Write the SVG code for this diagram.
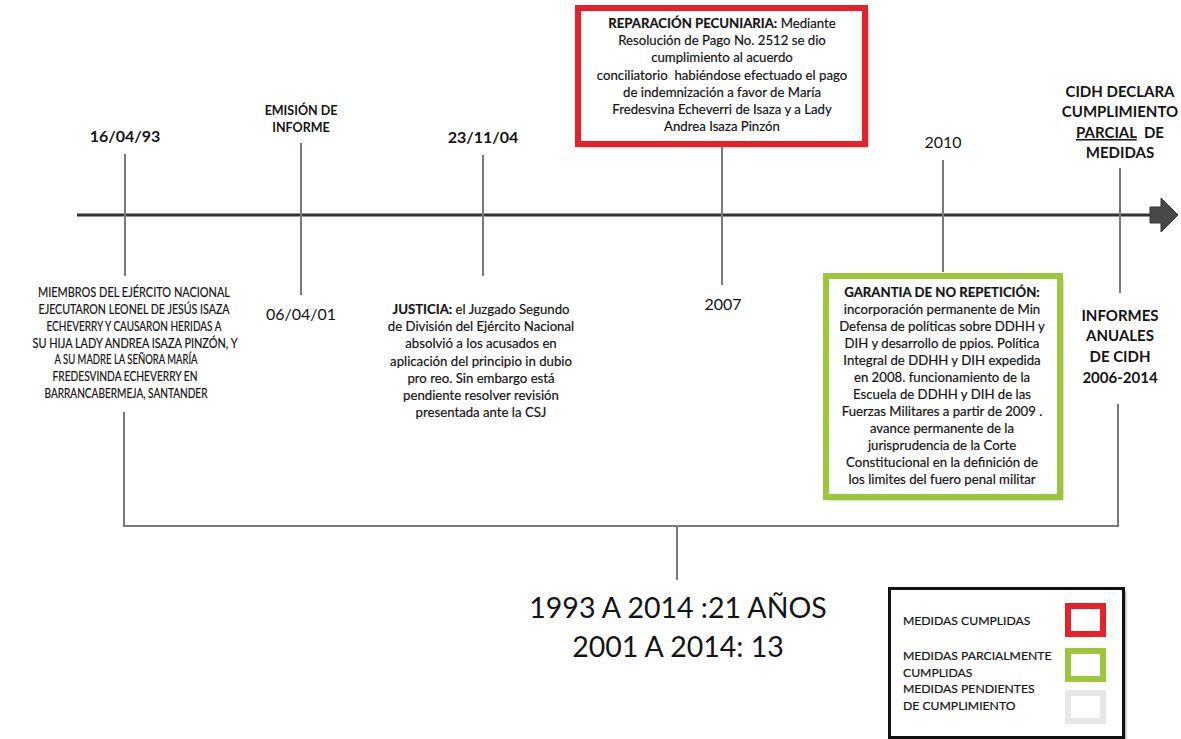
<svg xmlns="http://www.w3.org/2000/svg" width="1181" height="739" viewBox="0 0 1181 739">
  <style>
    text { font-family: Lato, "Open Sans", "Liberation Sans", sans-serif; fill: #141414; text-anchor: middle; }
    .b { font-weight: 700; }
    .date { font-size: 16px; }
    .caps { font-size: 12.6px; stroke: #141414; stroke-width: 0.2; }
    .desc { font-size: 13.2px; stroke: #141414; stroke-width: 0.2; }
    .head { font-size: 15px; font-weight: 700; }
    .tick { stroke: #7a7a7a; stroke-width: 2; fill: none; }
    .leg { font-size: 12.2px; text-anchor: start; stroke: #141414; stroke-width: 0.2; }
  </style>
  <defs>
    <filter id="shade" x="-5%" y="-5%" width="115%" height="115%">
      <feGaussianBlur stdDeviation="1"/>
    </filter>
  </defs>

  <rect width="1181" height="739" fill="#ffffff"/>

  <!-- connectors: axis, ticks and bracket -->
  <g id="connectors">
    <line x1="77" y1="215" x2="1151" y2="215" stroke="#333333" stroke-width="3"/>
    <path d="M1150,207 H1161 V198 L1178,215 L1161,232 V223 H1150 Z" fill="#484848" stroke="#333333" stroke-width="1"/>
    <line class="tick" x1="125" y1="154" x2="125" y2="276"/>
    <line class="tick" x1="301" y1="143" x2="301" y2="295"/>
    <line class="tick" x1="483" y1="155" x2="483" y2="276"/>
    <line class="tick" x1="722" y1="147" x2="722" y2="285"/>
    <line class="tick" x1="943" y1="160" x2="943" y2="272"/>
    <line class="tick" x1="1120" y1="168" x2="1120" y2="293"/>
    <path class="tick" d="M124,412 V526 H1118 V404"/>
    <line class="tick" x1="677" y1="526" x2="677" y2="580"/>
  </g>

  <!-- 16/04/93 -->
  <g id="event-1993">
    <text class="date b" x="125" y="142">16/04/93</text>
    <text class="caps" x="134" y="297" textLength="192" lengthAdjust="spacingAndGlyphs">MIEMBROS DEL EJÉRCITO NACIONAL</text>
    <text class="caps" x="134" y="314" textLength="191" lengthAdjust="spacingAndGlyphs">EJECUTARON LEONEL DE JESÚS ISAZA</text>
    <text class="caps" x="134" y="331" textLength="175" lengthAdjust="spacingAndGlyphs">ECHEVERRY Y CAUSARON HERIDAS A</text>
    <text class="caps" x="135" y="348" textLength="205" lengthAdjust="spacingAndGlyphs">SU HIJA LADY ANDREA ISAZA PINZÓN, Y</text>
    <text class="caps" x="126" y="364" textLength="143" lengthAdjust="spacingAndGlyphs">A SU MADRE LA SEÑORA MARÍA</text>
    <text class="caps" x="125" y="381" textLength="145" lengthAdjust="spacingAndGlyphs">FREDESVINDA ECHEVERRY EN</text>
    <text class="caps" x="126" y="398" textLength="163" lengthAdjust="spacingAndGlyphs">BARRANCABERMEJA, SANTANDER</text>
  </g>

  <!-- 06/04/01 -->
  <g id="event-2001">
    <text class="b" x="301" y="115" font-size="12.5">EMISIÓN DE</text>
    <text class="b" x="301" y="132" font-size="12.5">INFORME</text>
    <text class="date" x="301" y="320">06/04/01</text>
  </g>

  <!-- 23/11/04 -->
  <g id="event-2004">
    <text class="date b" x="483" y="143">23/11/04</text>
    <text class="desc" x="481" y="314"><tspan class="b">JUSTICIA:</tspan> el Juzgado Segundo</text>
    <text class="desc" x="481" y="331">de División del Ejército Nacional</text>
    <text class="desc" x="481" y="348">absolvió a los acusados en</text>
    <text class="desc" x="481" y="366">aplicación del principio in dubio</text>
    <text class="desc" x="481" y="383">pro reo. Sin embargo está</text>
    <text class="desc" x="481" y="400">pendiente resolver revisión</text>
    <text class="desc" x="481" y="417">presentada ante la CSJ</text>
  </g>

  <!-- 2007: reparación pecuniaria -->
  <g id="event-2007">
    <rect x="581" y="11" width="287" height="136" fill="#9a9a9a" filter="url(#shade)"/>
    <rect x="578" y="8" width="287" height="136" fill="#ffffff" stroke="#e8202a" stroke-width="6"/>
    <text class="desc" x="722" y="28"><tspan class="b">REPARACIÓN PECUNIARIA:</tspan> Mediante</text>
    <text class="desc" x="722" y="45">Resolución de Pago No. 2512 se dio</text>
    <text class="desc" x="722" y="62">cumplimiento al acuerdo</text>
    <text class="desc" x="722" y="80" xml:space="preserve">conciliatorio  habiéndose efectuado el pago</text>
    <text class="desc" x="722" y="97">de indemnización a favor de María</text>
    <text class="desc" x="722" y="114">Fredesvina Echeverri de Isaza y a Lady</text>
    <text class="desc" x="722" y="131">Andrea Isaza Pinzón</text>
    <text class="date" x="723" y="310">2007</text>
  </g>

  <!-- 2010: garantía de no repetición -->
  <g id="event-2010">
    <text class="date" x="943" y="148">2010</text>
    <rect x="829" y="279" width="234" height="221" fill="#9a9a9a" filter="url(#shade)"/>
    <rect x="826" y="276" width="234" height="221" fill="#ffffff" stroke="#9dc63b" stroke-width="6"/>
    <text class="desc b" x="942" y="297">GARANTIA DE NO REPETICIÓN:</text>
    <text class="desc" x="942" y="314">incorporación permanente de Min</text>
    <text class="desc" x="942" y="331">Defensa de políticas sobre DDHH y</text>
    <text class="desc" x="942" y="348">DIH y desarrollo de ppios. Política</text>
    <text class="desc" x="942" y="365">Integral de DDHH y DIH expedida</text>
    <text class="desc" x="942" y="382">en 2008. funcionamiento de la</text>
    <text class="desc" x="942" y="399">Escuela de DDHH y DIH de las</text>
    <text class="desc" x="942" y="416">Fuerzas Militares a partir de 2009 .</text>
    <text class="desc" x="942" y="433">avance permanente de la</text>
    <text class="desc" x="942" y="450">jurisprudencia de la Corte</text>
    <text class="desc" x="942" y="467">Constitucional en la definición de</text>
    <text class="desc" x="942" y="484">los limites del fuero penal militar</text>
  </g>

  <!-- 2014: CIDH -->
  <g id="event-2014">
    <text class="head" x="1120" y="97">CIDH DECLARA</text>
    <text class="head" x="1120" y="117">CUMPLIMIENTO</text>
    <text class="head" x="1120" y="138" xml:space="preserve"><tspan text-decoration="underline">PARCIAL</tspan>  DE</text>
    <text class="head" x="1120" y="158">MEDIDAS</text>
    <text class="head" x="1120" y="321">INFORMES</text>
    <text class="head" x="1120" y="341">ANUALES</text>
    <text class="head" x="1120" y="362">DE CIDH</text>
    <text class="head" x="1120" y="383">2006-2014</text>
  </g>

  <!-- total duration -->
  <g id="summary">
    <text x="678" y="618" font-size="28.5">1993 A 2014 :21 AÑOS</text>
    <text x="678" y="657" font-size="28.5">2001 A 2014: 13</text>
  </g>

  <!-- legend -->
  <g id="legend">
    <rect x="892" y="591" width="234" height="149" fill="#9a9a9a" filter="url(#shade)"/>
    <rect x="889.5" y="588.5" width="234" height="149" fill="#ffffff" stroke="#111111" stroke-width="3"/>
    <text class="leg" x="903" y="625">MEDIDAS CUMPLIDAS</text>
    <text class="leg" x="903" y="660">MEDIDAS PARCIALMENTE</text>
    <text class="leg" x="903" y="677">CUMPLIDAS</text>
    <text class="leg" x="903" y="693">MEDIDAS PENDIENTES</text>
    <text class="leg" x="903" y="710">DE CUMPLIMIENTO</text>
    <rect x="1068" y="606" width="35" height="28" fill="#ffffff" stroke="#e8202a" stroke-width="6"/>
    <rect x="1068" y="651" width="35" height="28" fill="#ffffff" stroke="#9dc63b" stroke-width="6"/>
    <rect x="1068" y="693" width="35" height="28" fill="#ffffff" stroke="#e6e7e8" stroke-width="6"/>
  </g>
</svg>
